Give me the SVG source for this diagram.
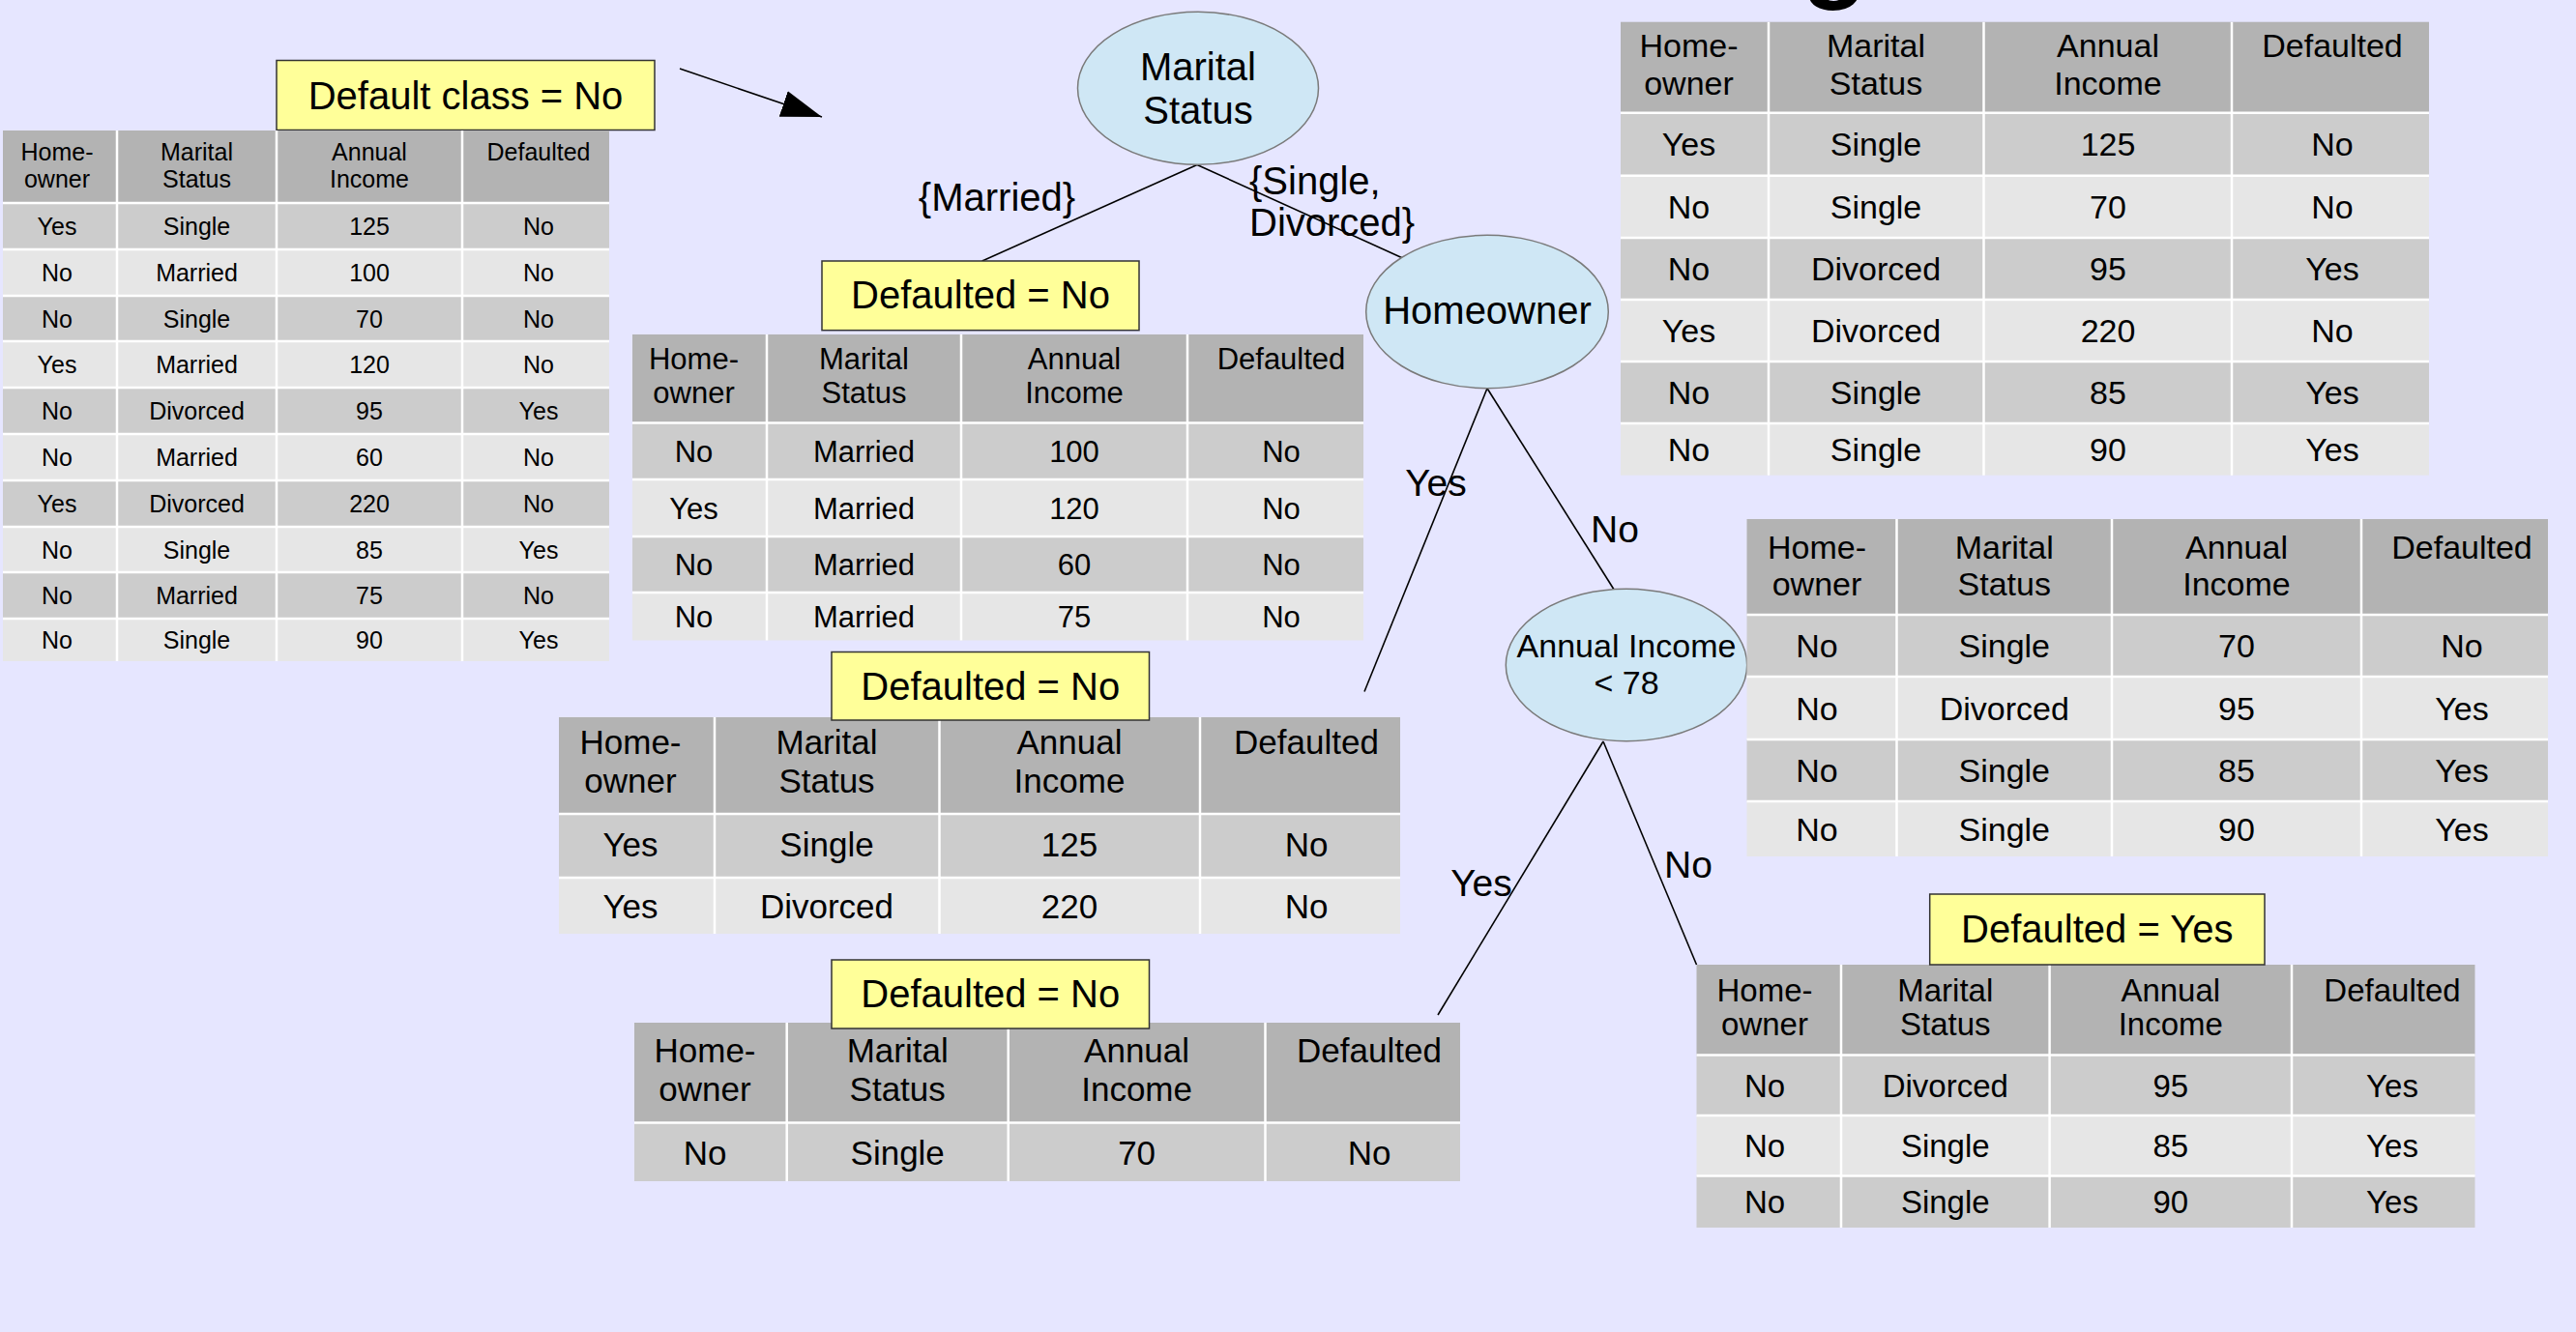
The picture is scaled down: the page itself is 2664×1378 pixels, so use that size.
<svg xmlns="http://www.w3.org/2000/svg" width="2664" height="1378" viewBox="0 0 2664 1378">
<defs>
<style>
text{font-family:"Liberation Sans",Arial,sans-serif;fill:#000;text-anchor:middle}
.hd{fill:#b3b3b3}.r1{fill:#cccccc}.r2{fill:#e6e6e6}
.sep{stroke:#ffffff;stroke-width:2.5}
.f25{font-size:25px}.f31{font-size:31px}.f33{font-size:33px}.f34{font-size:34px}.f35{font-size:35px}.f39{font-size:39px}.f40{font-size:40px}
.node ellipse{fill:#cfe7f5;stroke:#7a7a7a;stroke-width:1.5}
.lbl rect{fill:#ffff99;stroke:#333333;stroke-width:1.5}
.conn line{stroke:#000;stroke-width:1.6}
.st{text-anchor:start}
</style>
<marker id="ah" viewBox="0 0 42 28" refX="42" refY="14" markerWidth="42" markerHeight="28" markerUnits="userSpaceOnUse" orient="auto"><path d="M0,0 L42,14 L0,28 z" fill="#000"/></marker>
</defs>
<rect width="2664" height="1378" fill="#e6e6ff"/>
<text class="st" x="1863" y="-12" style="font-size:112px;font-weight:bold">g</text>

<g id="connectors" class="conn">
<line x1="703" y1="71" x2="850" y2="121" marker-end="url(#ah)"/>
<line x1="1238" y1="170.5" x2="1015.7" y2="270"/>
<line x1="1238" y1="170.5" x2="1450" y2="266.7"/>
<line x1="1538" y1="401.7" x2="1411" y2="715.5"/>
<line x1="1538" y1="401.7" x2="1669" y2="609.7"/>
<line x1="1658" y1="767" x2="1487" y2="1050"/>
<line x1="1658" y1="767" x2="1754.5" y2="998"/>
<text class="f40" x="1031" y="218">{Married}</text>
<text class="f40 st" x="1292" y="201">{Single,</text>
<text class="f40 st" x="1292" y="244">Divorced}</text>
<text class="f39" x="1485" y="513">Yes</text>
<text class="f39" x="1670" y="561">No</text>
<text class="f39" x="1532" y="927">Yes</text>
<text class="f39" x="1746" y="908">No</text>
</g>

<g id="label-default-class" class="lbl">
<rect x="286" y="62.5" width="391" height="72"/>
<text class="f40" x="481.5" y="112.5">Default class = No</text>
</g>

<g id="table-all">
<rect class="hd" x="3" y="135" width="627" height="75"/>
<rect class="r1" x="3" y="210" width="627" height="48"/>
<rect class="r2" x="3" y="258" width="627" height="48"/>
<rect class="r1" x="3" y="306" width="627" height="47"/>
<rect class="r2" x="3" y="353" width="627" height="48"/>
<rect class="r1" x="3" y="401" width="627" height="48"/>
<rect class="r2" x="3" y="449" width="627" height="48"/>
<rect class="r1" x="3" y="497" width="627" height="48"/>
<rect class="r2" x="3" y="545" width="627" height="47"/>
<rect class="r1" x="3" y="592" width="627" height="48"/>
<rect class="r2" x="3" y="640" width="627" height="44"/>
<line class="sep" x1="121" y1="135" x2="121" y2="684"/>
<line class="sep" x1="286" y1="135" x2="286" y2="684"/>
<line class="sep" x1="478" y1="135" x2="478" y2="684"/>
<line class="sep" x1="3" y1="210" x2="630" y2="210"/>
<line class="sep" x1="3" y1="258" x2="630" y2="258"/>
<line class="sep" x1="3" y1="306" x2="630" y2="306"/>
<line class="sep" x1="3" y1="353" x2="630" y2="353"/>
<line class="sep" x1="3" y1="401" x2="630" y2="401"/>
<line class="sep" x1="3" y1="449" x2="630" y2="449"/>
<line class="sep" x1="3" y1="497" x2="630" y2="497"/>
<line class="sep" x1="3" y1="545" x2="630" y2="545"/>
<line class="sep" x1="3" y1="592" x2="630" y2="592"/>
<line class="sep" x1="3" y1="640" x2="630" y2="640"/>
<g class="f25">
<text x="59" y="166">Home-</text><text x="59" y="194">owner</text>
<text x="203.5" y="166">Marital</text><text x="203.5" y="194">Status</text>
<text x="382" y="166">Annual</text><text x="382" y="194">Income</text>
<text x="557" y="166">Defaulted</text>
<text x="59" y="243">Yes</text><text x="203.5" y="243">Single</text><text x="382" y="243">125</text><text x="557" y="243">No</text>
<text x="59" y="291">No</text><text x="203.5" y="291">Married</text><text x="382" y="291">100</text><text x="557" y="291">No</text>
<text x="59" y="338.5">No</text><text x="203.5" y="338.5">Single</text><text x="382" y="338.5">70</text><text x="557" y="338.5">No</text>
<text x="59" y="386">Yes</text><text x="203.5" y="386">Married</text><text x="382" y="386">120</text><text x="557" y="386">No</text>
<text x="59" y="434">No</text><text x="203.5" y="434">Divorced</text><text x="382" y="434">95</text><text x="557" y="434">Yes</text>
<text x="59" y="482">No</text><text x="203.5" y="482">Married</text><text x="382" y="482">60</text><text x="557" y="482">No</text>
<text x="59" y="530">Yes</text><text x="203.5" y="530">Divorced</text><text x="382" y="530">220</text><text x="557" y="530">No</text>
<text x="59" y="577.5">No</text><text x="203.5" y="577.5">Single</text><text x="382" y="577.5">85</text><text x="557" y="577.5">Yes</text>
<text x="59" y="625">No</text><text x="203.5" y="625">Married</text><text x="382" y="625">75</text><text x="557" y="625">No</text>
<text x="59" y="671">No</text><text x="203.5" y="671">Single</text><text x="382" y="671">90</text><text x="557" y="671">Yes</text>
</g>
</g>

<g id="node-marital" class="node">
<ellipse cx="1239" cy="91.3" rx="124.5" ry="79"/>
<text class="f40" x="1239" y="83.3">Marital</text>
<text class="f40" x="1239" y="128">Status</text>
</g>

<g id="node-homeowner" class="node">
<ellipse cx="1538" cy="322.5" rx="125.3" ry="79.2"/>
<text class="f40" x="1538" y="335">Homeowner</text>
</g>

<g id="node-income" class="node">
<ellipse cx="1682" cy="688" rx="124.7" ry="78.7"/>
<text class="f34" x="1682" y="680">Annual Income</text>
<text class="f34" x="1682" y="718">&lt; 78</text>
</g>

<g id="label-married" class="lbl">
<rect x="850" y="270" width="328" height="71.7"/>
<text class="f40" x="1014" y="318.5">Defaulted = No</text>
</g>

<g id="table-married">
<rect class="hd" x="654" y="346" width="756" height="91.5"/>
<rect class="r1" x="654" y="437.5" width="756" height="58.5"/>
<rect class="r2" x="654" y="496" width="756" height="59"/>
<rect class="r1" x="654" y="555" width="756" height="58"/>
<rect class="r2" x="654" y="613" width="756" height="49.5"/>
<line class="sep" x1="793" y1="346" x2="793" y2="662.5"/>
<line class="sep" x1="994" y1="346" x2="994" y2="662.5"/>
<line class="sep" x1="1228" y1="346" x2="1228" y2="662.5"/>
<line class="sep" x1="654" y1="437.5" x2="1410" y2="437.5"/>
<line class="sep" x1="654" y1="496" x2="1410" y2="496"/>
<line class="sep" x1="654" y1="555" x2="1410" y2="555"/>
<line class="sep" x1="654" y1="613" x2="1410" y2="613"/>
<g class="f31">
<text x="717.5" y="382">Home-</text><text x="717.5" y="417">owner</text>
<text x="893.5" y="382">Marital</text><text x="893.5" y="417">Status</text>
<text x="1111" y="382">Annual</text><text x="1111" y="417">Income</text>
<text x="1325" y="382">Defaulted</text>
<text x="717.5" y="478">No</text><text x="893.5" y="478">Married</text><text x="1111" y="478">100</text><text x="1325" y="478">No</text>
<text x="717.5" y="537">Yes</text><text x="893.5" y="537">Married</text><text x="1111" y="537">120</text><text x="1325" y="537">No</text>
<text x="717.5" y="595">No</text><text x="893.5" y="595">Married</text><text x="1111" y="595">60</text><text x="1325" y="595">No</text>
<text x="717.5" y="649">No</text><text x="893.5" y="649">Married</text><text x="1111" y="649">75</text><text x="1325" y="649">No</text>
</g>
</g>

<g id="table-single-divorced">
<rect class="hd" x="1676" y="22.7" width="836" height="94"/>
<rect class="r1" x="1676" y="116.7" width="836" height="65"/>
<rect class="r2" x="1676" y="181.7" width="836" height="64.3"/>
<rect class="r1" x="1676" y="246" width="836" height="64"/>
<rect class="r2" x="1676" y="310" width="836" height="64"/>
<rect class="r1" x="1676" y="374" width="836" height="64"/>
<rect class="r2" x="1676" y="438" width="836" height="53.7"/>
<line class="sep" x1="1829" y1="22.7" x2="1829" y2="491.7"/>
<line class="sep" x1="2051.5" y1="22.7" x2="2051.5" y2="491.7"/>
<line class="sep" x1="2308" y1="22.7" x2="2308" y2="491.7"/>
<line class="sep" x1="1676" y1="116.7" x2="2512" y2="116.7"/>
<line class="sep" x1="1676" y1="181.7" x2="2512" y2="181.7"/>
<line class="sep" x1="1676" y1="246" x2="2512" y2="246"/>
<line class="sep" x1="1676" y1="310" x2="2512" y2="310"/>
<line class="sep" x1="1676" y1="374" x2="2512" y2="374"/>
<line class="sep" x1="1676" y1="438" x2="2512" y2="438"/>
<g class="f34">
<text x="1746.5" y="58.5">Home-</text><text x="1746.5" y="97.5">owner</text>
<text x="1940" y="58.5">Marital</text><text x="1940" y="97.5">Status</text>
<text x="2180" y="58.5">Annual</text><text x="2180" y="97.5">Income</text>
<text x="2412" y="58.5">Defaulted</text>
<text x="1746.5" y="161">Yes</text><text x="1940" y="161">Single</text><text x="2180" y="161">125</text><text x="2412" y="161">No</text>
<text x="1746.5" y="226">No</text><text x="1940" y="226">Single</text><text x="2180" y="226">70</text><text x="2412" y="226">No</text>
<text x="1746.5" y="290">No</text><text x="1940" y="290">Divorced</text><text x="2180" y="290">95</text><text x="2412" y="290">Yes</text>
<text x="1746.5" y="354">Yes</text><text x="1940" y="354">Divorced</text><text x="2180" y="354">220</text><text x="2412" y="354">No</text>
<text x="1746.5" y="418">No</text><text x="1940" y="418">Single</text><text x="2180" y="418">85</text><text x="2412" y="418">Yes</text>
<text x="1746.5" y="477">No</text><text x="1940" y="477">Single</text><text x="2180" y="477">90</text><text x="2412" y="477">Yes</text>
</g>
</g>

<g id="table-homeowner-yes">
<rect class="hd" x="578" y="742" width="870" height="100"/>
<rect class="r1" x="578" y="842" width="870" height="66"/>
<rect class="r2" x="578" y="908" width="870" height="58"/>
<line class="sep" x1="739" y1="742" x2="739" y2="966"/>
<line class="sep" x1="971.5" y1="742" x2="971.5" y2="966"/>
<line class="sep" x1="1241" y1="742" x2="1241" y2="966"/>
<line class="sep" x1="578" y1="842" x2="1448" y2="842"/>
<line class="sep" x1="578" y1="908" x2="1448" y2="908"/>
<g class="f35">
<text x="652" y="780">Home-</text><text x="652" y="820">owner</text>
<text x="855" y="780">Marital</text><text x="855" y="820">Status</text>
<text x="1106" y="780">Annual</text><text x="1106" y="820">Income</text>
<text x="1351" y="780">Defaulted</text>
<text x="652" y="886">Yes</text><text x="855" y="886">Single</text><text x="1106" y="886">125</text><text x="1351" y="886">No</text>
<text x="652" y="950">Yes</text><text x="855" y="950">Divorced</text><text x="1106" y="950">220</text><text x="1351" y="950">No</text>
</g>
</g>

<g id="label-homeowner-yes" class="lbl">
<rect x="860" y="674.5" width="328.5" height="70.5"/>
<text class="f40" x="1024.25" y="724">Defaulted = No</text>
</g>

<g id="table-homeowner-no">
<rect class="hd" x="1806.5" y="537" width="828.5" height="99"/>
<rect class="r1" x="1806.5" y="636" width="828.5" height="64"/>
<rect class="r2" x="1806.5" y="700" width="828.5" height="65"/>
<rect class="r1" x="1806.5" y="765" width="828.5" height="64"/>
<rect class="r2" x="1806.5" y="829" width="828.5" height="57"/>
<line class="sep" x1="1961.5" y1="537" x2="1961.5" y2="886"/>
<line class="sep" x1="2184" y1="537" x2="2184" y2="886"/>
<line class="sep" x1="2442" y1="537" x2="2442" y2="886"/>
<line class="sep" x1="1806.5" y1="636" x2="2635" y2="636"/>
<line class="sep" x1="1806.5" y1="700" x2="2635" y2="700"/>
<line class="sep" x1="1806.5" y1="765" x2="2635" y2="765"/>
<line class="sep" x1="1806.5" y1="829" x2="2635" y2="829"/>
<g class="f34">
<text x="1879" y="578">Home-</text><text x="1879" y="616">owner</text>
<text x="2072.75" y="578">Marital</text><text x="2072.75" y="616">Status</text>
<text x="2313" y="578">Annual</text><text x="2313" y="616">Income</text>
<text x="2546" y="578">Defaulted</text>
<text x="1879" y="680">No</text><text x="2072.75" y="680">Single</text><text x="2313" y="680">70</text><text x="2546" y="680">No</text>
<text x="1879" y="744.5">No</text><text x="2072.75" y="744.5">Divorced</text><text x="2313" y="744.5">95</text><text x="2546" y="744.5">Yes</text>
<text x="1879" y="809">No</text><text x="2072.75" y="809">Single</text><text x="2313" y="809">85</text><text x="2546" y="809">Yes</text>
<text x="1879" y="869.5">No</text><text x="2072.75" y="869.5">Single</text><text x="2313" y="869.5">90</text><text x="2546" y="869.5">Yes</text>
</g>
</g>

<g id="table-income-yes">
<rect class="hd" x="656" y="1058" width="854" height="103.6"/>
<rect class="r1" x="656" y="1161.6" width="854" height="60.4"/>
<line class="sep" x1="813.7" y1="1058" x2="813.7" y2="1222"/>
<line class="sep" x1="1042.7" y1="1058" x2="1042.7" y2="1222"/>
<line class="sep" x1="1308.5" y1="1058" x2="1308.5" y2="1222"/>
<line class="sep" x1="656" y1="1161.6" x2="1510" y2="1161.6"/>
<g class="f35">
<text x="729" y="1099">Home-</text><text x="729" y="1139">owner</text>
<text x="928.2" y="1099">Marital</text><text x="928.2" y="1139">Status</text>
<text x="1175.6" y="1099">Annual</text><text x="1175.6" y="1139">Income</text>
<text x="1416" y="1099">Defaulted</text>
<text x="729" y="1204.5">No</text><text x="928.2" y="1204.5">Single</text><text x="1175.6" y="1204.5">70</text><text x="1416" y="1204.5">No</text>
</g>
</g>

<g id="label-income-yes" class="lbl">
<rect x="860" y="993" width="328.5" height="71"/>
<text class="f40" x="1024.25" y="1042">Defaulted = No</text>
</g>

<g id="table-income-no">
<rect class="hd" x="1754.5" y="998" width="805" height="93.6"/>
<rect class="r1" x="1754.5" y="1091.6" width="805" height="62.4"/>
<rect class="r2" x="1754.5" y="1154" width="805" height="62.6"/>
<rect class="r1" x="1754.5" y="1216.6" width="805" height="53.4"/>
<line class="sep" x1="1904" y1="998" x2="1904" y2="1270"/>
<line class="sep" x1="2119.6" y1="998" x2="2119.6" y2="1270"/>
<line class="sep" x1="2370" y1="998" x2="2370" y2="1270"/>
<line class="sep" x1="1754.5" y1="1091.6" x2="2559.6" y2="1091.6"/>
<line class="sep" x1="1754.5" y1="1154" x2="2559.6" y2="1154"/>
<line class="sep" x1="1754.5" y1="1216.6" x2="2559.6" y2="1216.6"/>
<g class="f33">
<text x="1825" y="1035.5">Home-</text><text x="1825" y="1071">owner</text>
<text x="2011.8" y="1035.5">Marital</text><text x="2011.8" y="1071">Status</text>
<text x="2244.8" y="1035.5">Annual</text><text x="2244.8" y="1071">Income</text>
<text x="2474" y="1035.5">Defaulted</text>
<text x="1825" y="1134.5">No</text><text x="2011.8" y="1134.5">Divorced</text><text x="2244.8" y="1134.5">95</text><text x="2474" y="1134.5">Yes</text>
<text x="1825" y="1197">No</text><text x="2011.8" y="1197">Single</text><text x="2244.8" y="1197">85</text><text x="2474" y="1197">Yes</text>
<text x="1825" y="1255">No</text><text x="2011.8" y="1255">Single</text><text x="2244.8" y="1255">90</text><text x="2474" y="1255">Yes</text>
</g>
</g>

<g id="label-income-no" class="lbl">
<rect x="1995.7" y="925" width="346.3" height="73"/>
<text class="f40" x="2168.8" y="974.5">Defaulted = Yes</text>
</g>
</svg>
